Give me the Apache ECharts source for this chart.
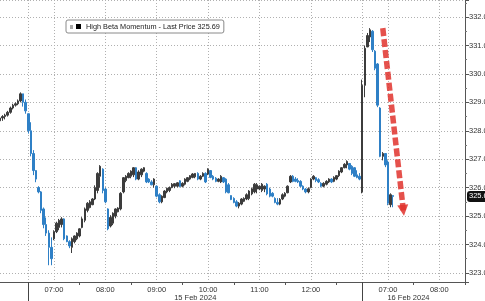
<!DOCTYPE html>
<html><head><meta charset="utf-8">
<script src="https://cdn.jsdelivr.net/npm/echarts@6/dist/echarts.min.js"></script>
<style>html,body{margin:0;padding:0;background:#fff;overflow:hidden}#c{width:485px;height:301px}</style>
</head><body><div id="c"></div>
<script>
const seriesName = 'High Beta Momentum - Last Price 325.69';
const lastPrice = 325.69;
const sessions = [
  { date: '14 Feb 2024', start: '12:27', bars: 11 },
  { date: '15 Feb 2024', start: '06:30', bars: 130 },
  { date: '16 Feb 2024', start: '06:30', bars: 41 }
];
const dateLabels = ['15 Feb 2024', '16 Feb 2024'];
const dateLabelAt = ['15 Feb 2024 09:45', '16 Feb 2024 07:24'];
const yRange = [322.68, 332.6];
const arrowStart = ['16 Feb 2024 06:54', 331.61];
const arrowEnd = ['16 Feb 2024 07:18', 325.2];

const opens = [328.35,328.45,328.50,328.55,328.65,328.80,328.90,328.95,329.05,329.30,329.00,
328.60,328.00,327.20,326.60,326.00,325.85,325.25,324.70,324.40,323.90,324.20,324.45,324.60,324.70,324.90,324.30,324.10,323.90,324.10,324.20,
324.30,324.60,324.85,325.20,325.30,325.40,325.60,325.90,326.40,326.65,325.95,325.25,324.65,324.75,325.00,325.15,325.25,325.85,326.25,326.35,
326.40,326.45,326.70,326.30,326.45,326.58,326.50,326.30,326.20,326.10,326.05,325.75,325.50,325.65,325.85,325.90,326.00,326.05,326.05,326.24,
326.05,326.12,326.22,326.30,326.36,326.38,326.50,326.30,326.40,326.50,326.48,326.60,326.40,326.33,326.22,326.20,326.35,326.30,326.10,325.72,
325.62,325.50,325.35,325.42,325.52,325.60,325.62,325.78,325.85,325.95,325.95,325.90,325.95,326.12,325.95,325.80,325.62,325.48,325.42,325.60,
325.70,325.82,326.20,326.40,326.30,326.25,326.22,326.05,325.95,325.85,326.00,326.30,326.35,326.28,326.15,326.05,326.12,326.20,326.30,326.22,
326.30,326.42,326.55,326.70,326.80,326.85,326.75,326.70,326.45,326.40,
325.85,329.60,330.95,331.30,331.50,330.80,330.35,328.80,327.10,327.20,326.90,325.40,325.72];
const closes = [328.45,328.50,328.55,328.65,328.80,328.90,328.95,329.05,329.30,329.00,328.70,
328.00,327.20,326.60,326.30,325.85,325.20,324.70,324.40,323.90,323.50,324.45,324.75,324.85,324.90,324.20,324.10,323.95,324.20,324.30,324.40,
324.55,324.90,325.25,325.45,325.50,325.60,326.00,326.50,326.75,325.90,325.50,324.55,324.95,325.10,325.25,325.28,325.80,326.35,326.40,326.50,
326.58,326.70,326.30,326.55,326.65,326.70,326.20,326.20,326.10,326.30,325.70,325.50,325.70,325.88,325.98,326.00,326.12,326.14,326.17,326.04,
326.15,326.30,326.35,326.42,326.48,326.50,326.30,326.40,326.50,326.20,326.65,326.36,326.30,326.22,326.30,326.40,326.20,325.85,325.82,325.58,
325.48,325.35,325.45,325.60,325.62,325.75,325.88,325.96,326.12,326.10,326.05,326.12,326.05,325.78,325.70,325.70,325.48,325.42,325.58,325.75,
325.80,326.05,326.40,326.22,326.22,326.20,326.05,325.95,325.85,325.96,326.30,326.40,326.25,326.20,326.05,326.15,326.22,326.30,326.20,326.36,
326.42,326.58,326.70,326.82,326.92,326.65,326.50,326.40,326.36,326.30,
329.60,330.90,331.35,331.55,330.85,330.20,328.90,327.10,327.20,326.80,325.45,325.75,325.69];
const lows = [328.30,328.35,328.40,328.50,328.60,328.75,328.85,328.90,329.00,328.85,328.60,
327.90,327.10,326.44,326.19,325.80,325.10,324.57,324.30,323.27,323.27,324.15,324.40,324.50,324.60,324.15,324.08,323.87,323.70,324.04,324.15,
324.25,324.57,324.78,325.13,325.27,325.38,325.56,325.80,326.00,325.80,325.45,324.50,324.60,324.68,324.92,325.13,325.20,325.80,326.19,326.33,
326.33,326.37,326.26,326.26,326.37,326.54,326.16,326.16,326.08,326.00,325.66,325.45,325.45,325.63,325.80,325.84,325.98,325.98,326.01,326.01,
326.01,326.08,326.19,326.26,326.33,326.33,326.26,326.26,326.37,326.16,326.44,326.33,326.26,326.19,326.19,326.16,326.16,325.80,325.80,325.56,
325.45,325.31,325.27,325.38,325.49,325.56,325.56,325.73,325.80,325.80,325.91,325.84,325.84,325.73,325.66,325.66,325.45,325.38,325.38,325.56,
325.66,325.80,326.16,326.19,326.19,326.16,326.01,325.91,325.80,325.80,325.98,326.26,326.19,326.16,326.01,326.01,326.08,326.16,326.16,326.19,
326.26,326.37,326.51,326.68,326.68,326.61,326.44,326.37,326.33,326.26,
325.80,329.18,330.94,331.12,330.77,330.13,328.83,327.07,326.96,326.72,325.38,325.31,325.31];
const highs = [328.50,328.55,328.60,328.70,328.85,328.95,329.00,329.10,329.35,329.30,329.10,
328.60,328.30,327.32,326.61,326.05,325.88,325.30,324.95,324.50,324.25,324.50,324.80,324.90,324.96,324.92,324.32,324.15,324.25,324.32,324.43,
324.57,324.96,325.30,325.49,325.56,325.63,326.08,326.54,326.79,326.68,326.00,325.27,325.03,325.13,325.27,325.31,325.84,326.37,326.44,326.54,
326.61,326.72,326.72,326.61,326.68,326.72,326.54,326.33,326.26,326.33,326.08,325.80,325.73,325.91,326.00,326.04,326.16,326.16,326.19,326.26,
326.19,326.33,326.37,326.44,326.51,326.51,326.54,326.44,326.54,326.54,326.68,326.61,326.44,326.37,326.33,326.44,326.37,326.33,326.16,325.73,
325.66,325.56,325.49,325.63,325.66,325.80,325.91,326.00,326.16,326.16,326.08,326.16,326.08,326.16,326.00,325.84,325.66,325.63,325.63,325.80,
325.84,326.08,326.44,326.44,326.37,326.33,326.26,326.08,325.98,326.01,326.33,326.44,326.37,326.33,326.19,326.19,326.26,326.33,326.33,326.40,
326.44,326.61,326.72,326.86,326.96,326.86,326.79,326.72,326.61,326.51,
329.80,331.00,331.44,331.61,331.54,330.84,330.38,328.83,327.25,327.20,326.96,325.80,325.73];

const categories = [];
sessions.forEach(s => {
  const [h, m] = s.start.split(':').map(Number);
  for (let i = 0; i < s.bars; i++) {
    const t = h * 60 + m + 3 * i;
    categories.push(s.date + ' ' + String(Math.floor(t / 60)).padStart(2, '0') + ':' + String(t % 60).padStart(2, '0'));
  }
});
const ohlc = opens.map((o, i) => [o, closes[i], lows[i], highs[i]]);

const FONT = 'Liberation Sans, Arial, sans-serif';
const isSessionStart = (i, v) => i >= 11 && v.endsWith(' 06:30');
const grid = { left: 0, right: 20, top: 0, bottom: 19, containLabel: false, outerBoundsMode: 'none' };

const chart = echarts.init(document.getElementById('c'), null, { renderer: 'canvas' });
chart.setOption({
  animation: false,
  backgroundColor: '#fff',
  grid: [grid, Object.assign({}, grid)],
  legend: {
    data: [{ name: seriesName, itemStyle: { color: '#000', borderWidth: 0 } }],
    left: 66, top: 20, icon: 'rect', itemWidth: 5, itemHeight: 5,
    padding: [3, 4, 3, 10], borderColor: '#8a8a8a', borderWidth: 1, borderRadius: 2,
    backgroundColor: '#fff', selectedMode: false,
    textStyle: { fontSize: 7.3, color: '#1a1a1a', fontFamily: FONT }
  },
  graphic: [{ type: 'rect', left: 70, top: 25, z: 100, shape: { width: 3, height: 4 }, style: { fill: '#a8a8a8' } }],
  xAxis: [{
    type: 'category', data: categories, boundaryGap: false, gridIndex: 0,
    axisLine: { lineStyle: { color: '#555', width: 1 } },
    axisTick: { interval: (i, v) => i >= 11 && v.endsWith(':30') && !v.endsWith(' 06:30'), length: 3, lineStyle: { color: '#555' } },
    axisLabel: { interval: (i, v) => i >= 11 && v.endsWith(':00'), formatter: v => v.slice(-5), fontSize: 7.5, color: '#333', margin: 4, fontFamily: FONT },
    splitLine: { show: true, interval: (i, v) => i >= 11 && (v.endsWith(':00') || v.endsWith(' 06:30')), lineStyle: { type: [1, 2], color: '#b0b0b0' } }
  }, {
    type: 'category', data: categories, boundaryGap: false, gridIndex: 1,
    axisLine: { show: false },
    axisTick: { show: true, interval: isSessionStart, length: 19, lineStyle: { color: '#444' } },
    axisLabel: { interval: (i, v) => dateLabelAt.includes(v), formatter: v => dateLabels[dateLabelAt.indexOf(v)], fontSize: 7.5, color: '#333', margin: 12, fontFamily: FONT },
    splitLine: { show: false }
  }],
  yAxis: [{
    type: 'value', position: 'right', gridIndex: 0, min: yRange[0], max: yRange[1], splitNumber: 10, scale: true,
    axisLine: { show: true, lineStyle: { color: '#555' } },
    axisTick: { show: true, length: 4, lineStyle: { color: '#555' } },
    minorTick: { show: true, splitNumber: 2, length: 2, lineStyle: { color: '#777' } },
    axisLabel: { formatter: v => v.toFixed(1), showMinLabel: false, showMaxLabel: false, fontSize: 7.5, color: '#333', margin: 4, fontFamily: FONT },
    splitLine: { show: true, lineStyle: { type: [1, 2], color: '#b0b0b0' } }
  }, {
    type: 'value', gridIndex: 1, min: yRange[0], max: yRange[1], show: false
  }],
  series: [{
    type: 'candlestick', name: seriesName, xAxisIndex: 0, yAxisIndex: 0,
    data: ohlc, barWidth: 2, clip: false,
    itemStyle: { color: '#3c3c3c', color0: '#2f80c6', borderColor: '#3c3c3c', borderColor0: '#2f80c6', borderWidth: 1 },
    markLine: {
      silent: true, symbol: ['none', 'none'], animation: false, z: 10,
      data: [
        { yAxis: lastPrice, lineStyle: { color: 'rgba(0,0,0,0)', width: 0 },
          label: { show: true, position: 'end', formatter: lastPrice.toFixed(2), backgroundColor: '#111', color: '#fff', opacity: 1, padding: [2, 2, 1, 2], borderRadius: 3, fontSize: 7.5, fontFamily: FONT, distance: 2 } },
        [
          { coord: arrowStart, symbol: 'none', lineStyle: { color: 'rgba(225,50,45,0.85)', width: 5.5, type: [8, 3] }, label: { show: false } },
          { coord: arrowEnd, symbol: 'triangle', symbolSize: [11, 11] }
        ]
      ]
    }
  }]
});
</script></body></html>
